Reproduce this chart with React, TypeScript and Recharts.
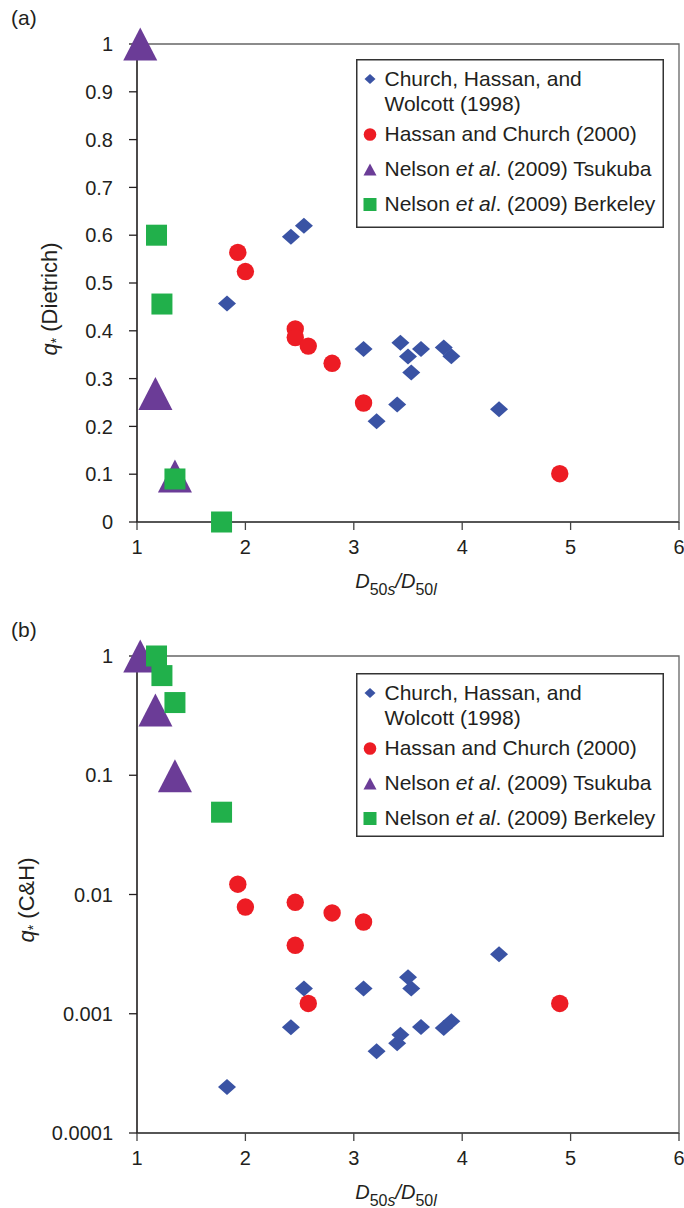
import { ScatterChart, Scatter, XAxis, YAxis, ReferenceArea, Legend, Label } from 'recharts'

const FONT = '"Liberation Sans", Arial, Helvetica, sans-serif'
const INK = '#231f20'

const BLUE = '#3a53a4'
const RED = '#ed1c24'
const PURPLE = '#6b3c97'
const GREEN = '#21b04b'

// axis ticks
const xTicks = [1, 2, 3, 4, 5, 6]
const linTicks = [0, 0.1, 0.2, 0.3, 0.4, 0.5, 0.6, 0.7, 0.8, 0.9, 1]
const logTicks = [0.0001, 0.001, 0.01, 0.1, 1]

// Church, Hassan, and Wolcott (1998)
const churchX = [1.83, 2.42, 2.54, 3.09, 3.21, 3.4, 3.43, 3.5, 3.53, 3.62, 3.83, 3.9, 4.34]
const churchDietrich = [0.457, 0.597, 0.62, 0.362, 0.211, 0.246, 0.375, 0.346, 0.313, 0.362, 0.365, 0.347, 0.236]
const churchCH = [0.000243, 0.00077, 0.00163, 0.00163, 0.000484, 0.000565, 0.000668, 0.00202, 0.00163, 0.000774, 0.00076, 0.000865, 0.00315]

// Hassan and Church (2000)
const hassanX = [1.93, 2.0, 2.46, 2.46, 2.58, 2.8, 3.09, 4.9]
const hassanDietrich = [0.564, 0.524, 0.404, 0.386, 0.368, 0.332, 0.249, 0.101]
const hassanCH = [0.0122, 0.00785, 0.0086, 0.00375, 0.00122, 0.007, 0.00588, 0.00122]

// Nelson et al. (2009) Tsukuba
const tsukubaX = [1.03, 1.17, 1.35]
const tsukubaDietrich = [1.0, 0.269, 0.096]
const tsukubaCH = [1.0, 0.352, 0.099]

// Nelson et al. (2009) Berkeley
const berkeleyX = [1.18, 1.23, 1.35, 1.78]
const berkeleyDietrich = [0.6, 0.456, 0.09, 0.0]
const berkeleyCH = [1.0, 0.685, 0.407, 0.049]

const pts = (xs: number[], ys: number[]) => xs.map((x, i) => ({ x, y: ys[i] }))

function Diamond({ cx, cy, w, h, fill }: any) {
  return <polygon points={`${cx},${cy - h / 2} ${cx + w / 2},${cy} ${cx},${cy + h / 2} ${cx - w / 2},${cy}`} fill={fill} />
}
function Tri({ cx, cy, w, h, fill }: any) {
  return <polygon points={`${cx},${cy - h / 2} ${cx + w / 2},${cy + h / 2} ${cx - w / 2},${cy + h / 2}`} fill={fill} />
}
function Sq({ cx, cy, s, fill }: any) {
  return <rect x={cx - s / 2} y={cy - s / 2} width={s} height={s} fill={fill} />
}

function LegendBox({ height }: { height: number }) {
  const tx = 28.5
  const fs = 21
  return (
    <svg width={308} height={height} style={{ display: 'block', fontFamily: FONT }}>
      <rect x={0.75} y={0.75} width={306.5} height={height - 1.5} fill="#fff" stroke="#333" strokeWidth={1.5} />
      <Diamond cx={14} cy={20} w={11} h={10} fill={BLUE} />
      <circle cx={14} cy={75.5} r={6.3} fill={RED} />
      <Tri cx={14} cy={110.5} w={13} h={12} fill={PURPLE} />
      <Sq cx={14} cy={145.5} s={13} fill={GREEN} />
      <g fontSize={fs} fill={INK}>
        <text x={tx} y={26.5}>Church, Hassan, and</text>
        <text x={tx} y={51.5}>Wolcott (1998)</text>
        <text x={tx} y={81.5}>Hassan and Church (2000)</text>
        <text x={tx} y={116.5}>
          Nelson <tspan fontStyle="italic">et al</tspan>. (2009) Tsukuba
        </text>
        <text x={tx} y={151.5}>
          Nelson <tspan fontStyle="italic">et al</tspan>. (2009) Berkeley
        </text>
      </g>
    </svg>
  )
}

function XTitle({ cx, y }: { cx: number; y: number }) {
  return (
    <text x={cx} y={y} textAnchor="middle" fontSize={20} fill={INK} fontFamily={FONT}>
      <tspan fontStyle="italic">D</tspan>
      <tspan fontSize={16} dy={7}>50</tspan>
      <tspan fontSize={16} fontStyle="italic">s</tspan>
      <tspan dy={-7} fontStyle="italic">/D</tspan>
      <tspan fontSize={16} dy={7}>50</tspan>
      <tspan fontSize={16} fontStyle="italic">l</tspan>
    </text>
  )
}

function YTitle({ x, cy, name, tag, tagY }: any) {
  return (
    <g fontFamily={FONT} fill={INK}>
      <text x={11} y={tagY} fontSize={21}>{tag}</text>
      <text x={x} y={cy} textAnchor="middle" fontSize={22} transform={`rotate(-90 ${x} ${cy})`}>
        <tspan fontStyle="italic">q</tspan>
        <tspan fontSize={14} dy={4}>*</tspan>
        <tspan dy={-4}> ({name})</tspan>
      </text>
    </g>
  )
}

interface PanelProps {
  tag: string
  tagY: number
  log: boolean
  height: number
  top: number
  xAxisHeight: number
  yName: string
  yTitleX: number
  yTitleCy: number
  legendTop: number
  legendHeight: number
  church: number[]
  hassan: number[]
  tsukuba: number[]
  berkeley: number[]
}

function Panel(p: PanelProps) {
  const width = 684
  const left = 137
  const right = 5
  const plotBottom = p.height - p.xAxisHeight
  const ticks = p.log ? logTicks : linTicks
  const domain = p.log ? [0.0001, 1] : [0, 1]
  const tickStyle = { fontSize: 20, fill: INK, fontFamily: FONT }
  return (
    <ScatterChart width={width} height={p.height} margin={{ top: p.top, right, left: 0, bottom: 0 }}>
      <ReferenceArea x1={1} x2={6} y1={domain[0]} y2={domain[1]} fill="none" stroke="#666" strokeWidth={1.3} />
      <XAxis
        type="number"
        dataKey="x"
        domain={[1, 6]}
        ticks={xTicks}
        height={p.xAxisHeight}
        tick={tickStyle}
        tickSize={8}
        tickMargin={10}
        axisLine={{ stroke: '#444', strokeWidth: 1.3 }}
        tickLine={{ stroke: '#444', strokeWidth: 1.3 }}
      >
        <Label content={() => <XTitle cx={396} y={plotBottom + 65.5} />} />
      </XAxis>
      <YAxis
        type="number"
        dataKey="y"
        scale={p.log ? 'log' : 'linear'}
        domain={domain}
        ticks={ticks}
        width={left}
        tick={tickStyle}
        tickFormatter={(v: number) => String(v)}
        tickSize={8}
        tickMargin={16}
        axisLine={{ stroke: INK, strokeWidth: 1.3 }}
        tickLine={{ stroke: INK, strokeWidth: 1.3 }}
      >
        <Label
          content={() => <YTitle x={p.yTitleX} cy={p.yTitleCy} name={p.yName} tag={p.tag} tagY={p.tagY} />}
        />
      </YAxis>
      <Legend
        layout="horizontal"
        verticalAlign="middle"
        align="center"
        wrapperStyle={{ left: 356, top: p.legendTop, width: 308, height: p.legendHeight }}
        content={() => <LegendBox height={p.legendHeight} />}
      />
      <Scatter
        name="Church, Hassan, and Wolcott (1998)"
        data={pts(churchX, p.church)}
        isAnimationActive={false}
        shape={(s: any) => <Diamond cx={s.cx} cy={s.cy} w={18} h={16} fill={BLUE} />}
      />
      <Scatter
        name="Hassan and Church (2000)"
        data={pts(hassanX, p.hassan)}
        isAnimationActive={false}
        shape={(s: any) => <ellipse cx={s.cx} cy={s.cy} rx={8.7} ry={8.7} fill={RED} />}
      />
      <Scatter
        name="Nelson et al. (2009) Tsukuba"
        data={pts(tsukubaX, p.tsukuba)}
        isAnimationActive={false}
        shape={(s: any) => <Tri cx={s.cx} cy={s.cy} w={34} h={33} fill={PURPLE} />}
      />
      <Scatter
        name="Nelson et al. (2009) Berkeley"
        data={pts(berkeleyX, p.berkeley)}
        isAnimationActive={false}
        shape={(s: any) => <Sq cx={s.cx} cy={s.cy} s={21} fill={GREEN} />}
      />
    </ScatterChart>
  )
}

export default function App() {
  return (
    <div style={{ position: 'absolute', left: 0, top: 0, width: 684, height: 1208, background: '#fff', fontFamily: FONT }}>
      <div style={{ position: 'absolute', left: 0, top: 0 }}>
        <Panel
          tag="(a)"
          tagY={25}
          log={false}
          height={600}
          top={44}
          xAxisHeight={78}
          yName="Dietrich"
          yTitleX={57}
          yTitleCy={299}
          legendTop={59}
          legendHeight={169}
          church={churchDietrich}
          hassan={hassanDietrich}
          tsukuba={tsukubaDietrich}
          berkeley={berkeleyDietrich}
        />
      </div>
      <div style={{ position: 'absolute', left: 0, top: 600 }}>
        <Panel
          tag="(b)"
          tagY={37}
          log={true}
          height={608}
          top={56}
          xAxisHeight={75}
          yName="C&H"
          yTitleX={34}
          yTitleCy={300}
          legendTop={72.7}
          legendHeight={164}
          church={churchCH}
          hassan={hassanCH}
          tsukuba={tsukubaCH}
          berkeley={berkeleyCH}
        />
      </div>
    </div>
  )
}
